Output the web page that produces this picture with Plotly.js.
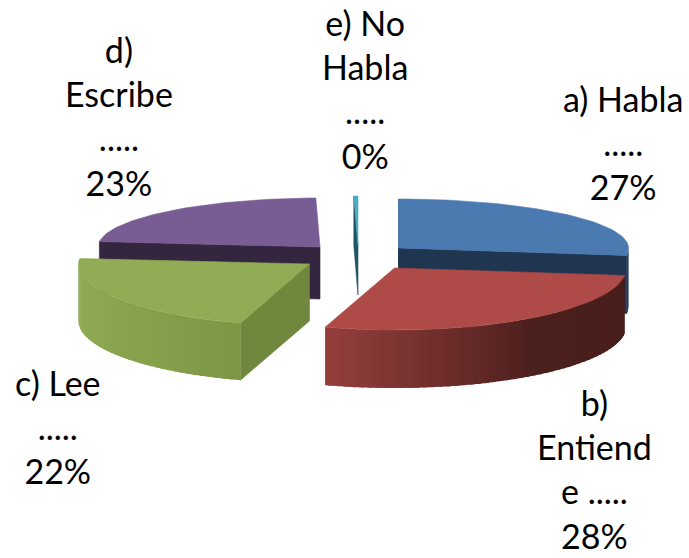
<!DOCTYPE html>
<html><head><meta charset="utf-8">
<script src="https://cdn.plot.ly/plotly-3.0.1.min.js"></script>
<style>html,body{margin:0;padding:0;background:#fff}#c{width:689px;height:558px}</style>
</head><body><div id="c"></div>
<script>
// data
const categories = ["a) Habla", "b) Entiende", "c) Lee", "d) Escribe", "e) No Habla"];
const values = [27, 28, 22, 23, 0.3];
const labelLines = [["a) Habla", "....."], ["b)", "Entiend", "e ....."], ["c) Lee", "....."], ["d)", "Escribe", "....."], ["e) No", "Habla", "....."]];
// styling and geometry of the tilted, exploded pie
const topColors = ["#4a7ab0", "#ae4a47", "#91ac54", "#785c94", "#4bacc6"];
const edgeColors = ["#1f3550", "#8f3d3a", "#70883e", "#352640", "#1f5564"];
const wallStops = [
  [[0, "#1f3550"], [1, "#1f3550"]],
  [[0, "#481e1b"], [0.45, "#4a1f1c"], [0.8, "#7a3330"], [1, "#953f3c"]],
  [[0, "#7d9645"], [0.6, "#8ba650"], [0.92, "#8fab52"], [1, "#7f9a48"]],
  [[0, "#352640"], [1, "#352640"]],
  [[0, "#1f5564"], [1, "#1f5564"]]
];
const apexX = [398.5, 394.5, 309.5, 320, 358];
const apexY = [248, 268, 264, 247, 245];
const radiusX = [230, 232, 231, 222, 222];
const depth = [58, 58, 57, 52, 50];
const backRadiusY = 49, frontRadiusY = 62;
const labelX = [623, 594, 58, 119, 365];
const labelY = [142, 469, 426, 116, 89];

const rad = d => d * Math.PI / 180;
const total = values.reduce((a, b) => a + b, 0);
let acc = 0;
const starts = [], ends = [];
values.forEach(v => { starts.push(acc); acc += v / total * 360; ends.push(acc); });

const px = (i, t) => apexX[i] + radiusX[i] * Math.sin(rad(t));
const py = (i, t) => apexY[i] - (Math.cos(rad(t)) >= 0 ? backRadiusY : frontRadiusY) * Math.cos(rad(t));

const hex = h => [1, 3, 5].map(k => parseInt(h.substr(k, 2), 16));
function shade(stops, f) {
  for (let k = 1; k < stops.length; k++) {
    if (f <= stops[k][0]) {
      const a = stops[k - 1], b = stops[k], u = (f - a[0]) / (b[0] - a[0] || 1);
      const ca = hex(a[1]), cb = hex(b[1]);
      return "rgb(" + ca.map((c, j) => Math.round(c + (cb[j] - c) * u)).join(",") + ")";
    }
  }
  return stops[stops.length - 1][1];
}

const traces = [];
function poly(xs, ys, color, lw) {
  traces.push({
    type: "scatter", mode: "lines", x: xs.concat(xs[0]), y: ys.concat(ys[0]),
    fill: "toself", fillcolor: color, line: { color: color, width: lw === undefined ? 0.6 : lw },
    hoverinfo: "skip", showlegend: false
  });
}

function drawSlice(i) {
  const a = starts[i], b = ends[i], h = depth[i];
  // radial side faces that look toward the viewer
  if (Math.cos(rad(a - 90)) <= 0.02) {
    const ox = px(i, a), oy = py(i, a);
    poly([ox, apexX[i], apexX[i], ox], [oy, apexY[i], apexY[i] + h, oy + h], edgeColors[i]);
  }
  if (Math.cos(rad(b + 90)) < 0) {
    const ox = px(i, b), oy = py(i, b);
    poly([ox, apexX[i], apexX[i], ox], [oy, apexY[i], apexY[i] + h, oy + h], edgeColors[i]);
  }
  // curved outer wall, front half only; bands overlap to hide seams
  const w0 = Math.max(a, 90), w1 = Math.min(b, 270);
  if (w1 > w0) {
    const n = Math.ceil((w1 - w0) / 2);
    for (let k = 0; k < n; k++) {
      const t0 = w0 + (w1 - w0) * k / n;
      const t1 = Math.min(w0 + (w1 - w0) * (k + 1.6) / n, w1);
      poly([px(i, t0), px(i, t1), px(i, t1), px(i, t0)],
           [py(i, t0), py(i, t1), py(i, t1) + h, py(i, t0) + h],
           shade(wallStops[i], (k + 0.5) / n), 0);
    }
  }
  // top face
  const xs = [apexX[i]], ys = [apexY[i]];
  const m = Math.max(2, Math.ceil((b - a) / 2));
  for (let k = 0; k <= m; k++) {
    const t = a + (b - a) * k / m;
    xs.push(px(i, t)); ys.push(py(i, t));
  }
  poly(xs, ys, topColors[i]);
}
[3, 4, 0, 2, 1].forEach(drawSlice);

const annotations = categories.map((c, i) => ({
  x: labelX[i], y: labelY[i], xref: "x", yref: "y", xanchor: "center", yanchor: "middle",
  showarrow: false, align: "center",
  text: labelLines[i].concat(Math.round(values[i] / total * 100) + "%").join("<br>"),
  font: { family: "Lato, sans-serif", size: 34, color: "#000" }
}));

Plotly.newPlot("c", traces, {
  width: 689, height: 558, margin: { l: 0, r: 0, t: 0, b: 0 },
  paper_bgcolor: "#fff", plot_bgcolor: "#fff", showlegend: false,
  xaxis: { range: [0, 689], visible: false, fixedrange: true },
  yaxis: { range: [558, 0], visible: false, fixedrange: true },
  annotations: annotations
}, { displayModeBar: false, staticPlot: true });
</script></body></html>
